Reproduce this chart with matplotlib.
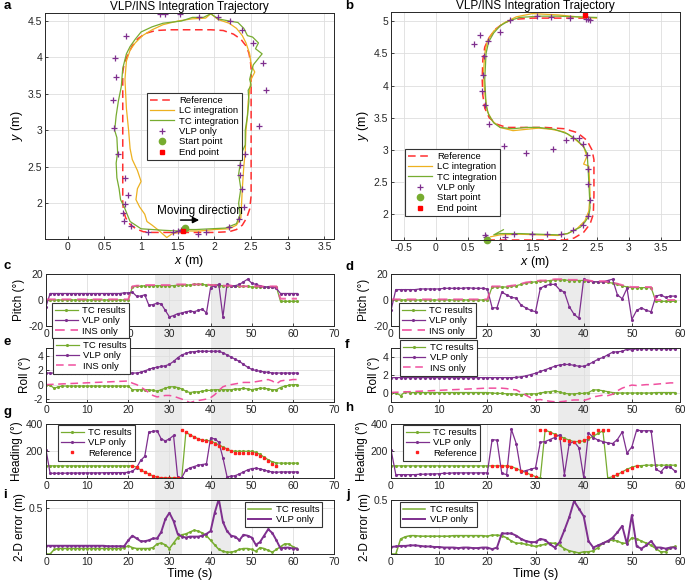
import numpy as np
import matplotlib
matplotlib.use('Agg')
import matplotlib.pyplot as plt
from matplotlib.transforms import blended_transform_factory
from matplotlib.patches import Rectangle
from matplotlib.ticker import FuncFormatter
from matplotlib.lines import Line2D

plt.rcParams['font.family'] = ['Liberation Sans', 'DejaVu Sans']
plt.rcParams['mathtext.fontset'] = 'custom'
plt.rcParams['mathtext.rm'] = 'Liberation Sans'
plt.rcParams['mathtext.it'] = 'Liberation Sans:italic'

# ---------------- colours ----------------
C_TC = '#77AC30'
C_VLP = '#7E2F8E'
C_LC = '#EDB120'
C_REF = '#FF3030'
C_INS = '#F0509F'

# ---------------- panel a data ----------------
a_ref_x = [1.55, 1.8, 2.0, 2.2, 2.3, 2.38, 2.44, 2.48, 2.5, 2.5, 2.5, 2.5, 2.49, 2.47, 2.43, 2.36, 2.26, 2.12, 1.95, 1.7, 1.4, 1.2,
           1.06, 0.96, 0.88, 0.82, 0.77, 0.75, 0.75, 0.75, 0.75, 0.76, 0.79, 0.85, 0.93, 1.03, 1.15, 1.3, 1.55]
a_ref_y = [1.6, 1.6, 1.6, 1.61, 1.64, 1.7, 1.8, 1.92, 2.1, 2.8, 3.4, 3.85, 3.95, 4.06, 4.16, 4.25, 4.32, 4.37, 4.38, 4.38, 4.38, 4.37,
           4.33, 4.26, 4.16, 4.04, 3.92, 3.8, 3.2, 2.6, 2.0, 1.9, 1.8, 1.71, 1.65, 1.61, 1.6, 1.6, 1.6]
a_lc_x = [1.6, 1.8, 2.0, 2.2, 2.3, 2.36, 2.37, 2.38, 2.4, 2.42, 2.43, 2.45, 2.46, 2.48, 2.5, 2.55, 2.5, 2.48, 2.43, 2.38, 2.3, 2.2,
          2.05, 1.95, 1.88, 1.7, 1.5, 1.3, 1.15, 1.02, 0.92, 0.85, 0.8, 0.78, 0.79, 0.8, 0.83, 0.85, 0.88, 0.95, 1.0, 0.95,
          0.93, 0.98, 1.05, 1.08, 1.15, 1.25, 1.35, 1.42, 1.5, 1.58]
a_lc_y = [1.62, 1.62, 1.64, 1.65, 1.7, 1.8, 2.0, 2.2, 2.5, 2.7, 3.0, 3.2, 3.4, 3.55, 3.7, 3.8, 3.9, 4.05, 4.2, 4.3, 4.4, 4.47,
          4.52, 4.6, 4.54, 4.53, 4.5, 4.45, 4.38, 4.3, 4.2, 4.1, 3.95, 3.7, 3.5, 3.3, 3.0, 2.75, 2.6, 2.45, 2.3, 2.2,
          2.05, 1.95, 1.85, 1.75, 1.7, 1.62, 1.53, 1.58, 1.6, 1.62]
a_tc_x = [1.6, 1.75, 1.95, 2.15, 2.3, 2.35, 2.33, 2.36, 2.33, 2.36, 2.35, 2.42, 2.42, 2.45, 2.47, 2.46, 2.5, 2.48, 2.53, 2.65,
          2.56, 2.6, 2.52, 2.45, 2.4, 2.32, 2.2, 2.05, 1.95, 1.85, 1.7, 1.55, 1.3, 1.15, 1.0, 0.92, 0.85, 0.8, 0.75, 0.73,
          0.69, 0.66, 0.64, 0.67, 0.68, 0.66, 0.67, 0.7, 0.72, 0.77, 0.85, 1.0, 1.3, 1.5, 1.58]
a_tc_y = [1.64, 1.64, 1.65, 1.66, 1.72, 1.85, 2.0, 2.2, 2.4, 2.6, 2.65, 2.8, 3.0, 3.2, 3.4, 3.55, 3.62, 3.7, 3.9, 4.05,
          4.12, 4.2, 4.28, 4.3, 4.4, 4.48, 4.5, 4.53, 4.6, 4.55, 4.55, 4.5, 4.47, 4.42, 4.35, 4.25, 4.15, 4.05, 3.85, 3.6,
          3.4, 3.2, 3.0, 2.9, 2.7, 2.55, 2.35, 2.2, 2.05, 1.95, 1.75, 1.65, 1.63, 1.62, 1.65]
a_vlp_x = [1.26, 1.33, 1.53, 1.79, 2.05, 2.21, 2.38, 2.52, 2.66, 2.70, 2.61, 2.42, 2.35, 2.35, 2.38, 2.40, 2.34, 2.20, 1.88,
           1.78, 1.55, 1.44, 1.09, 0.86, 0.77, 0.76, 0.78, 0.82, 0.78, 0.69, 0.63, 0.62, 0.66, 0.65, 0.79, 1.5, 1.6]
a_vlp_y = [4.6, 4.6, 4.6, 4.56, 4.55, 4.5, 4.38, 4.2, 3.93, 3.56, 3.06, 2.67, 2.53, 2.39, 2.2, 1.95, 1.79, 1.67, 1.6,
           1.58, 1.64, 1.61, 1.61, 1.69, 1.76, 1.86, 1.99, 2.12, 2.35, 2.68, 3.03, 3.42, 3.73, 3.99, 4.29, 1.62, 1.63]
a_start = (1.6, 1.66)
a_end = (1.57, 1.62)

# ---------------- panel b data ----------------
b_ref_x = [0.8, 1.0, 1.5, 2.0, 2.15, 2.3, 2.4, 2.45, 2.46, 2.46, 2.46, 2.43, 2.35, 2.2, 2.0, 1.7, 1.4, 1.1, 0.95, 0.83, 0.76,
           0.73, 0.72, 0.73, 0.76, 0.83, 0.93, 1.05, 1.2, 1.5, 2.0, 2.4]
b_ref_y = [1.6, 1.6, 1.6, 1.6, 1.63, 1.72, 1.85, 2.0, 2.3, 2.6, 2.85, 3.0, 3.15, 3.27, 3.33, 3.35, 3.35, 3.35, 3.4, 3.5, 3.65,
           3.85, 4.1, 4.4, 4.6, 4.75, 4.88, 4.97, 5.03, 5.05, 5.05, 5.05]
b_lc_x = [0.85, 1.0, 1.3, 1.6, 1.9, 2.05, 2.2, 2.32, 2.38, 2.4, 2.39, 2.38, 2.3, 2.35, 2.3, 2.15, 2.0, 1.8, 1.6, 1.4, 1.2, 1.0,
          0.88, 0.8, 0.77, 0.75, 0.74, 0.76, 0.8, 0.9, 1.05, 1.25, 1.5, 1.9, 2.3, 2.5]
b_lc_y = [1.65, 1.68, 1.69, 1.68, 1.67, 1.7, 1.78, 1.9, 2.05, 2.3, 2.55, 2.75, 2.78, 2.9, 3.05, 3.18, 3.28, 3.32, 3.34, 3.32,
          3.3, 3.35, 3.45, 3.6, 3.8, 4.0, 4.2, 4.5, 4.7, 4.85, 4.97, 5.07, 5.12, 5.1, 5.06, 5.05]
b_tc_x = [1.05, 0.9, 1.0, 1.3, 1.6, 1.9, 2.05, 2.15, 2.25, 2.32, 2.38, 2.4, 2.39, 2.38, 2.37, 2.36, 2.35, 2.3, 2.2, 2.05, 1.85,
          1.6, 1.4, 1.2, 1.0, 0.9, 0.82, 0.78, 0.77, 0.76, 0.77, 0.78, 0.82, 0.9, 1.0, 1.12, 1.3, 1.6, 1.9, 2.2, 2.5]
b_tc_y = [1.76, 1.68, 1.7, 1.7, 1.69, 1.68, 1.7, 1.75, 1.8, 1.88, 1.97, 2.1, 2.3, 2.5, 2.7, 2.85, 2.95, 3.05, 3.15, 3.25, 3.32,
          3.35, 3.35, 3.33, 3.35, 3.42, 3.55, 3.7, 3.9, 4.1, 4.3, 4.5, 4.68, 4.82, 4.93, 5.0, 5.06, 5.08, 5.08, 5.07, 5.06]
b_vlp_x = [1.57, 1.79, 2.09, 2.37, 2.40, 2.34, 1.15, 0.69, 0.60, 0.99, 0.81, 0.75, 0.73, 0.71, 0.76, 0.83, 1.06, 1.40, 1.83,
           2.02, 2.14, 2.22, 2.29, 2.35, 2.37, 2.36, 2.40, 2.37, 2.29, 2.13, 1.94, 1.73, 1.49, 1.22, 1.08, 0.76, 0.78]
b_vlp_y = [5.08, 5.07, 5.05, 5.03, 5.02, 5.04, 5.02, 4.78, 4.65, 4.83, 4.69, 4.46, 4.17, 3.91, 3.70, 3.41, 3.06, 2.96, 3.01,
           3.15, 3.19, 3.19, 3.09, 2.92, 2.70, 2.47, 2.22, 1.97, 1.83, 1.75, 1.69, 1.69, 1.69, 1.69, 1.64, 1.67, 1.64]
b_start = (0.8, 1.6)
b_end = (2.32, 5.1)

# ---------------- time series, left (a trajectory) ----------------
tL = np.arange(62)
pitch_tc_L = [0, 0, 0, 0, 0, 0, 0, 0, 0, 0, 0, 0, 0, 0, 0, 0, 0, 0, 0, 0, 0,
              10, 10.5, 10.5, 11, 11, 11, 11, 11, 11, 11,
              11, 11.5, 11.5, 11.5, 11.5, 12, 12, 12, 11.5, 11.5,
              11.5, 11, 11, 11, 10.5, 10.5, 10.5, 10.5, 10.5, 10,
              10, 10, 10, 10, 10, 10,
              -1, -1, -1, -1, -1]
pitch_ins_L = [0.5, 0.5, 0.5, 0.5, 0.5, 0.5, 0.5, 0.5, 0.5, 0.5, 0.5, 0.5, 0.5, 0.5, 0.5, 0.5, 0.5, 0.5, 0.5, 0.5, 0.5,
               10.5, 11, 11, 11.5, 11.5, 11.5, 11.5, 11.5, 11.5, 11.5,
               11.5, 12, 12, 12, 12, 12, 12, 12, 12, 11.5,
               11.5, 11, 11, 11, 11, 10.5, 10.5, 10.5, 10.5, 10.5,
               10.5, 10.5, 10.5, 10.5, 10.5, 10.5,
               1, 1, 1, 1, 1]
pitch_vlp_L = [-5, 5, 5, 5, 5, 5, 5, 5, 5, 5, 5, 5, 5, 5, 5, 5, 5, 5, 5, 5.5, 5.5,
               6, 3, 3, 4, -4, -3.5, -2.5, -3, -8, -13,
               -12, -10.5, -10, -9, -8.5, -9, -8, -7, -10, 9.5,
               11, 12, -13, 12, 11, 11, 12, 14, 16, 13,
               12, 11, 10, 10, 10, 9, 5, 5, 5, 5, 5]
roll_vlp_L = [1.6, 1.6, 1.6, 1.6, 1.6, 1.6, 1.6, 1.6, 1.6, 1.6, 1.6, 1.6, 1.6, 1.6, 1.6, 1.6, 1.6, 1.6, 1.6, 1.6, 1.6, 1.6, 1.6,
              1.7, 1.9, 2.1, 2.3, 2.4, 2.5, 2.6, 2.8,
              3.2, 3.7, 4.1, 4.3, 4.5, 4.55, 4.6, 4.6, 4.6, 4.6,
              4.6, 4.6, 4.4, 4.1, 3.8, 3.5, 3.2, 2.8, 2.4, 2.1,
              1.95, 1.85, 1.75, 1.7, 1.6, 1.6, 1.6, 1.6, 1.6, 1.6, 1.6]
roll_tc_L = [0, -0.1, -0.5, -0.3, -0.2, -0.2, -0.2, -0.2, -0.2, -0.2, -0.2,
             -0.2, -0.2, -0.2, -0.2, -0.2, -0.2, -0.2, -0.2, -0.2, -0.2,
             -0.7, -0.7, -0.7, -0.7, -0.7, -0.8, -0.9, -0.7, -0.5, -0.3,
             -0.3, -0.4, -0.6, -0.9, -1.1, -1.0, -1.0, -0.9, -0.8, -0.8,
             -0.7, -0.7, -0.7, -0.7, -0.7, -0.6, -0.6, -0.5, -0.6, -0.7,
             -0.6, -0.5, -0.5, -0.6, -0.7, -0.7, -0.4, -0.2, -0.1, 0, 0]
roll_ins_L = [0, 0.02, 0.05, 0.07, 0.1, 0.12, 0.15, 0.17, 0.2, 0.22, 0.25,
              0.27, 0.3, 0.32, 0.35, 0.37, 0.4, 0.42, 0.45, 0.47, 0.5,
              0.2, 0, -0.3, -0.7, -1.1, -1.5, -1.7, -1.6, -1.5, -1.5,
              -1.6, -1.8, -2.0, -2.2, -2.5, -2.3, -2.2, -2.1, -2.0, -1.8,
              -1.4, -0.8, -0.3, -0.1, 0, 0.1, 0.2, 0.3, 0.3, 0.3,
              0.4, 0.5, 0.6, 0.7, 0.5, 0.1, 0.5, 0.6, 0.6, 0.7, 0.7]
head_tc_L = [90, 90, 90, 90, 90, 90, 90, 90, 90, 90, 90,
             90, 90, 90, 90, 90, 90, 90, 90, 90, 90, 90,
             80, 60, 45, 30, 15, 5, 2, 2, 2,
             2, 2, 2, 340, 320, 305, 290, 280, 278, 275,
             260, 245, 230, 215, 200, 198, 198, 198, 198, 198,
             190, 175, 155, 135, 120, 112, 110, 110, 110, 110, 110]
head_vlp_L = [210, 35,
              35, 35, 36, 36, 37, 37, 37, 38, 38,
              38, 38, 38, 39, 39, 40, 40, 40, 40, 42,
              50, 75, 130, 160, 340, 345, 350, 290, 275, 290,
              315, 5, 2, 60, 75, 85, 95, 100, 105, 295,
              290, 265, 150, 10, 12, 18, 30, 45, 60, 70,
              72, 68, 60, 50, 45, 42, 45, 45, 45, 45, 45]
t_ref_L = np.arange(21, 57)
head_ref_L = [90, 78, 60, 45, 30, 15, 5, 0, 0, 0,
              0, 0, 355, 340, 320, 302, 288, 280, 275, 268,
              255, 240, 225, 212, 198, 188, 185, 185, 185, 185,
              180, 165, 145, 125, 105, 90]
err_tc_L = [0, 0, 0.05, 0.06, 0.06, 0.06, 0.06, 0.06, 0.06, 0.06, 0.06,
            0.06, 0.06, 0.06, 0.06, 0.06, 0.06, 0.06, 0.06, 0.07, 0.09,
            0.07, 0.06, 0.06, 0.06, 0.06, 0.07, 0.11, 0.12, 0.1, 0.06,
            0.12, 0.18, 0.21, 0.22, 0.24, 0.26, 0.25, 0.23, 0.2, 0.15,
            0.1, 0.05, 0.03, 0.02, 0.02, 0.03, 0.05, 0.06, 0.06, 0.05,
            0.03, 0.07, 0.06, 0.04, 0.02, 0.05, 0.08, 0.11, 0.11, 0.08, 0.06]
err_vlp_L = [0.09, 0.09, 0.09, 0.09, 0.09, 0.09, 0.09, 0.09, 0.09, 0.09, 0.09,
             0.09, 0.09, 0.09, 0.09, 0.085, 0.085, 0.085, 0.085, 0.085, 0.15,
             0.2, 0.17, 0.14, 0.14, 0.15, 0.17, 0.17, 0.24, 0.38, 0.45,
             0.36, 0.22, 0.19, 0.18, 0.19, 0.19, 0.19, 0.2, 0.22, 0.25,
             0.45, 0.6, 0.35, 0.25, 0.2, 0.19, 0.15, 0.21, 0.2, 0.18,
             0.1, 0.13, 0.2, 0.27, 0.23, 0.15, 0.06, 0.07, 0.07, 0.06, 0.06]

# ---------------- time series, right (b trajectory) ----------------
tR = np.arange(60)
pitch_tc_R = [0, 0, 0, 0, 0, 0, 0, 0, 0, 0, 0, 0, 0, 0, 0, 0, 0, 0, 0, 0, 0,
              10, 10, 10, 10, 10.5, 11, 12, 13, 13.5, 14,
              14.5, 14.5, 15, 15.5, 15.5, 15.5, 15, 15, 15, 15,
              14.5, 14, 14, 14, 13.5, 13, 12, 11, 10, 9.5,
              9.5, 9.5, 9.5, 9.5, -1, -1, -1, -1, -1]
pitch_ins_R = [0.5, 0.5, 0.5, 0.5, 0.5, 0.5, 0.5, 0.5, 0.5, 0.5, 0.5, 0.5, 0.5, 0.5, 0.5, 0.5, 0.5, 0.5, 0.5, 0.5, 0.5,
               10.5, 10.5, 10.5, 10.5, 11, 11.5, 12.5, 13.5, 14, 14.5,
               15, 15, 15.5, 16, 16, 16, 15.5, 15.5, 15.5, 15.5,
               15, 14.5, 14.5, 14.5, 14, 13.5, 12.5, 11.5, 10.5, 10,
               10, 10, 10, 10, 0, 0, 0, 0, 0]
pitch_vlp_R = [-8,
               8, 8, 8, 8, 8, 8.5, 8.5, 8.5, 8.5, 8.5,
               9, 9, 9, 9, 9, 9.5, 9, 9, 9, 8.5,
               -6, -6, 6, 4, 2, 1.5, -4, -6, -8, -9,
               9, 11, 12, 12, 8, 6, -5, -11, -14, 16,
               15, 14, 14, 14, 15, 16, 4, 1, 9, -15,
               -8, -6, -8, -9, 3, 4, 2, 3, 3]
roll_vlp_R = [1.7, 1.7, 1.7, 1.7, 1.7, 1.7, 1.7, 1.7, 1.7, 1.7, 1.7,
              1.7, 1.7, 1.7, 1.7, 1.7, 1.7, 1.7, 1.7, 1.7, 1.7,
              1.7, 1.7, 1.7, 1.7, 1.7, 1.72, 1.8, 1.9, 2.05, 2.2,
              2.4, 2.6, 2.8, 3.0, 3.15, 3.2, 3.2, 3.1, 3.0, 3.0,
              3.2, 3.5, 3.8, 4.0, 4.3, 4.6, 4.65, 4.7, 4.95, 4.85,
              5.0, 5.0, 5.0, 5.0, 5.0, 5.0, 5.0, 5.0, 5.0]
roll_tc_R = [0, 0, -0.35, 0.1, 0, 0, 0, 0, 0, 0, 0,
             0, 0, 0, 0, 0, 0, 0, 0, 0, 0,
             -0.05, -0.1, -0.1, -0.15, -0.15, -0.2, -0.25, -0.2, -0.15, -0.15,
             -0.05, 0.05, 0.1, 0.2, 0.05, -0.1, -0.15, -0.15, -0.1, -0.1,
             0, 0.3, 0.3, 0.2, 0.1, 0, -0.05, -0.05, -0.05, -0.05,
             -0.05, -0.05, -0.05, -0.05, 0, 0, 0, 0, 0]
roll_ins_R = [0, 0.03, 0.05, 0.08, 0.1, 0.13, 0.15, 0.18, 0.2, 0.23, 0.25,
              0.28, 0.3, 0.33, 0.35, 0.38, 0.4, 0.43, 0.45, 0.48, 0.5,
              0.5, 0.5, 0.5, 0.45, 0.35, 0.3, 0, -0.3, -0.6, -0.85,
              -0.8, -0.9, -1.0, -1.05, -1.05, -1.0, -0.9, -0.85, -0.85, -0.9,
              -0.75, -0.5, -0.4, -0.3, -0.35, -0.2, 0.2, 0.5, 0.7, 0.85,
              0.8, 0.85, 0.9, 0.9, 0.95, 1.0, 1.05, 1.1, 1.1]
head_tc_R = [90, 90, 90, 90, 90, 90, 90, 90, 90, 90, 90,
             90, 90, 90, 90, 90, 90, 90, 90, 90, 90,
             90, 90, 90, 90, 85, 70, 55, 40, 25, 10,
             0, 355, 340, 325, 310, 295, 280, 270, 270, 275,
             290, 310, 330, 350, 0, 10, 25, 45, 65, 80,
             90, 92, 95, 95, 95, 95, 95, 95, 95]
head_vlp_R = [210,
              25, 25, 25, 25, 25, 28, 28, 30, 30, 32,
              35, 35, 38, 38, 38, 38, 38, 38, 38, 38,
              285, 280, 35, 25, 360, 255, 45, 55, 65, 75,
              265, 270, 285, 300, 320, 25, 255, 270, 225, 5,
              335, 300, 280, 270, 260, 255, 285, 340, 185, 230,
              355, 350, 350, 350, 65, 45, 85, 80, 50]
t_ref_R = np.arange(21, 52)
head_ref_R = [90, 90, 90, 90, 82, 68, 52, 38, 22, 8,
              355, 355, 330, 315, 300, 285, 275, 270, 272, 285,
              305, 330, 355, 355, 355, 15, 30, 45, 60, 75,
              90]
err_tc_R = [0, 0, 0.14, 0.16, 0.17, 0.17, 0.165, 0.165, 0.165, 0.165, 0.165,
            0.165, 0.165, 0.17, 0.17, 0.17, 0.17, 0.17, 0.17, 0.17, 0.165,
            0.175, 0.175, 0.17, 0.15, 0.12, 0.1, 0.1, 0.09, 0.08, 0.07,
            0.08, 0.09, 0.1, 0.1, 0.08, 0.05, 0.03, 0.02, 0.01, 0.02,
            0.02, 0.03, 0.06, 0.1, 0.12, 0.13, 0.12, 0.1, 0.1, 0.15,
            0.14, 0.12, 0.1, 0.08, 0.05, 0.02, 0.02, 0.06, 0.07]
err_vlp_R = [0.065, 0.07, 0.075, 0.075, 0.08, 0.08, 0.075, 0.07, 0.07, 0.065, 0.065,
             0.06, 0.06, 0.06, 0.055, 0.06, 0.06, 0.055, 0.055, 0.06, 0.06,
             0.045, 0.06, 0.19, 0.19, 0.19, 0.17, 0.14, 0.12, 0.11, 0.11,
             0.14, 0.13, 0.09, 0.06, 0.11, 0.22, 0.34, 0.49, 0.42, 0.35,
             0.12, 0.06, 0.08, 0.1, 0.12, 0.15, 0.2, 0.26, 0.09, 0.36,
             0.07, 0.05, 0.08, 0.12, 0.06, 0.06, 0.05, 0.06, 0.06]

shade_L = [(26.5, 33.0), (40.0, 45.0)]
shade_R = [(34.7, 41.4)]

# ---------------- figure ----------------
W, H = 685, 581
fig = plt.figure(figsize=(W / 100, H / 100), dpi=100)


def add_ax(l, t, r, b):
    return fig.add_axes([l / W, 1 - b / H, (r - l) / W, (b - t) / H])


gfmt = FuncFormatter(lambda v, p: ('%g' % v))


def style(ax):
    ax.set_facecolor('none')
    ax.grid(True, color='#dedede', lw=0.6)
    ax.set_axisbelow(True)
    for s in ax.spines.values():
        s.set_linewidth(0.7)
        s.set_color('#262626')
    ax.tick_params(direction='in', length=2.5, width=0.6, labelsize=7.5, colors='#262626', pad=2)
    ax.xaxis.set_major_formatter(gfmt)
    ax.yaxis.set_major_formatter(gfmt)


def legend(ax, handles, labels, x, y, loc='upper left', hl=2.4, fs=6.8):
    lg = ax.legend(handles, labels, loc=loc, bbox_to_anchor=(x / W, 1 - y / H),
                   bbox_transform=fig.transFigure, fontsize=fs, frameon=True, fancybox=False,
                   edgecolor='#333333', framealpha=1, borderpad=0.3, labelspacing=0.15,
                   handlelength=hl, handletextpad=0.5, borderaxespad=0)
    lg.get_frame().set_linewidth(0.8)
    return lg


def panel_label(s, x, y):
    fig.text(x / W, 1 - y / H, s, fontsize=9.5, fontweight='bold', ha='left', va='center')


# ---- panel a ----
axa = add_ax(45, 13, 334, 239)
style(axa)
h1, = axa.plot(a_ref_x, a_ref_y, color=C_REF, lw=1.1, dashes=(5, 3))
h2, = axa.plot(a_lc_x, a_lc_y, color=C_LC, lw=0.9)
h3, = axa.plot(a_tc_x, a_tc_y, color=C_TC, lw=0.9)
h4, = axa.plot(a_vlp_x, a_vlp_y, '+', color=C_VLP, ms=5, mew=0.9, ls='none')
h5, = axa.plot([a_start[0]], [a_start[1]], 'o', color=C_TC, ms=4.5, ls='none')
h6, = axa.plot([a_end[0]], [a_end[1]], 's', color='#ff0000', ms=3.5, ls='none')
axa.set_xlim(-0.31, 3.63)
axa.set_ylim(1.51, 4.61)
axa.set_xticks([0, 0.5, 1, 1.5, 2, 2.5, 3, 3.5])
axa.set_yticks([2, 2.5, 3, 3.5, 4, 4.5])
axa.set_xlabel('$x$ (m)', fontsize=9, labelpad=1)
axa.set_ylabel('$y$ (m)', fontsize=9, labelpad=2)
axa.set_title('VLP/INS Integration Trajectory', fontsize=8.5, pad=2)
axa.annotate('', xy=(1.83, 1.77), xytext=(1.5, 1.77),
             arrowprops=dict(arrowstyle='-|>', color='k', lw=1.1, mutation_scale=9))
axa.text(1.8, 1.9, 'Moving direction', ha='center', va='center', fontsize=8.5)
legend(axa, [h1, h2, h3, h4, h5, h6],
       ['Reference', 'LC integration', 'TC integration', 'VLP only', 'Start point', 'End point'],
       147, 93, hl=2.6)

# ---- panel b ----
axb = add_ax(391, 12, 680, 240)
style(axb)
g1, = axb.plot(b_ref_x, b_ref_y, color=C_REF, lw=1.1, dashes=(5, 3))
g2, = axb.plot(b_lc_x, b_lc_y, color=C_LC, lw=0.9)
g3, = axb.plot(b_tc_x, b_tc_y, color=C_TC, lw=0.9)
g4, = axb.plot(b_vlp_x, b_vlp_y, '+', color=C_VLP, ms=5, mew=0.9, ls='none')
g5, = axb.plot([b_start[0]], [b_start[1]], 'o', color=C_TC, ms=4.5, ls='none', clip_on=False)
g6, = axb.plot([b_end[0]], [b_end[1]], 's', color='#ff0000', ms=3.5, ls='none', clip_on=False)
axb.set_xlim(-0.70, 3.80)
axb.set_ylim(1.60, 5.145)
axb.set_xticks([-0.5, 0, 0.5, 1, 1.5, 2, 2.5, 3, 3.5])
axb.set_yticks([2, 2.5, 3, 3.5, 4, 4.5, 5])
axb.set_xlabel('$x$ (m)', fontsize=9, labelpad=1)
axb.set_ylabel('$y$ (m)', fontsize=9, labelpad=2)
axb.set_title('VLP/INS Integration Trajectory', fontsize=8.5, pad=2)
legend(axb, [g1, g2, g3, g4, g5, g6],
       ['Reference', 'LC integration', 'TC integration', 'VLP only', 'Start point', 'End point'],
       405, 149, hl=2.6)

# ---- time series ----
rows = [(274, 326), (348, 402), (424, 478), (500, 554)]
colx = [(46, 334), (391, 680)]

mk = dict(marker='.', ms=2.5)


def series_axes(ci, ri):
    l, r = colx[ci]
    t, b = rows[ri]
    ax = add_ax(l, t, r, b)
    style(ax)
    return ax


for ci, (t, p_tc, p_ins, p_vlp, r_tc, r_ins, r_vlp, h_tc, h_vlp, tref, h_ref, e_tc, e_vlp, shade, xmax, rlim) in enumerate([
    (tL, pitch_tc_L, pitch_ins_L, pitch_vlp_L, roll_tc_L, roll_ins_L, roll_vlp_L, head_tc_L, head_vlp_L,
     t_ref_L, head_ref_L, err_tc_L, err_vlp_L, shade_L, 70, (-2.4, 5.05)),
    (tR, pitch_tc_R, pitch_ins_R, pitch_vlp_R, roll_tc_R, roll_ins_R, roll_vlp_R, head_tc_R, head_vlp_R,
     t_ref_R, head_ref_R, err_tc_R, err_vlp_R, shade_R, 60, (-1.08, 5.08)),
]):
    xt = list(range(0, xmax + 1, 10))
    # pitch
    axp = series_axes(ci, 0)
    l1, = axp.plot(t, p_tc, color=C_TC, lw=0.9, **mk)
    l2, = axp.plot(t, p_vlp, color=C_VLP, lw=0.9, **mk)
    l3, = axp.plot(t, p_ins, color=C_INS, lw=1.4, dashes=(5, 3), alpha=0.85)
    axp.set_xlim(0, xmax)
    axp.set_ylim(-20, 20)
    axp.set_xticks(xt)
    # the "10" tick label sits under the legend box in the original
    axp.set_xticklabels(['' if v == 10 else str(v) for v in xt])
    axp.set_yticks([-20, 0, 20])
    axp.set_ylabel('Pitch (°)', fontsize=8.5, labelpad=2)
    lx = 52 if ci == 0 else 399
    legend(axp, [l1, l2, l3], ['TC results', 'VLP only', 'INS only'], lx, 303)

    # roll
    axr = series_axes(ci, 1)
    m1, = axr.plot(t, r_tc, color=C_TC, lw=0.9, **mk)
    m2, = axr.plot(t, r_vlp, color=C_VLP, lw=0.9, **mk)
    m3, = axr.plot(t, r_ins, color=C_INS, lw=1.1, dashes=(5, 3))
    axr.set_xlim(0, xmax)
    axr.set_ylim(*rlim)
    axr.set_xticks(xt)
    axr.set_yticks([-2, 0, 2, 4] if ci == 0 else [0, 2, 4])
    axr.set_ylabel('Roll (°)', fontsize=8.5, labelpad=2)
    lx = 53 if ci == 0 else 400
    ly = 338 if ci == 0 else 340
    legend(axr, [m1, m2, m3], ['TC results', 'VLP only', 'INS only'], lx, ly)

    # heading
    axh = series_axes(ci, 2)
    n1, = axh.plot(t, h_tc, color=C_TC, lw=0.9, **mk)
    n2, = axh.plot(t, h_vlp, color=C_VLP, lw=0.9, **mk)
    n3, = axh.plot(tref, h_ref, 's', color='#ff2020', ms=1.8, ls='none')
    axh.set_xlim(0, xmax)
    axh.set_ylim(0, 400)
    axh.set_xticks(xt)
    axh.set_yticks([0, 200, 400])
    axh.set_yticklabels(['', '200', '400'])
    axh.set_ylabel('Heading (°)', fontsize=8.5, labelpad=2)
    lx = 58 if ci == 0 else 403
    legend(axh, [n1, n2, n3], ['TC results', 'VLP only', 'Reference'], lx, 425)

    # error
    axe = series_axes(ci, 3)
    o1, = axe.plot(t, e_tc, color=C_TC, lw=1.1, marker='.', ms=2)
    o2, = axe.plot(t, e_vlp, color=C_VLP, lw=1.4, marker='.', ms=2)
    axe.set_xlim(0, xmax)
    axe.set_ylim(0, 0.59 if ci == 0 else 0.5)
    axe.set_xticks(xt)
    axe.set_yticks([0, 0.5])
    axe.set_yticklabels(['', '0.5'])
    axe.set_ylabel('2-D error (m)', fontsize=8.5, labelpad=2)
    axe.set_xlabel('Time (s)', fontsize=9, labelpad=1)
    h_o1 = Line2D([], [], color=C_TC, lw=1.1)
    h_o2 = Line2D([], [], color=C_VLP, lw=1.4)
    if ci == 0:
        legend(axe, [h_o1, h_o2], ['TC results', 'VLP only'], 322, 502, loc='upper right')
    else:
        legend(axe, [h_o1, h_o2], ['TC results', 'VLP only'], 400, 502)

    # shading spanning the four panels
    tr = blended_transform_factory(axp.transData, fig.transFigure)
    for s0, s1 in shade:
        fig.add_artist(Rectangle((s0, 1 - rows[3][1] / H), s1 - s0, (rows[3][1] - rows[0][0]) / H,
                                 transform=tr, facecolor='#ebebeb', edgecolor='none', zorder=-1))

# panel letters
for s, x, y in [('a', 4, 6), ('b', 345, 6), ('c', 4, 266), ('d', 345, 267), ('e', 4, 342), ('f', 345, 345),
                ('g', 3, 412), ('h', 345, 408), ('i', 3, 495), ('j', 346, 495)]:
    panel_label(s, x, y)

fig.savefig('out.png', dpi=100)
